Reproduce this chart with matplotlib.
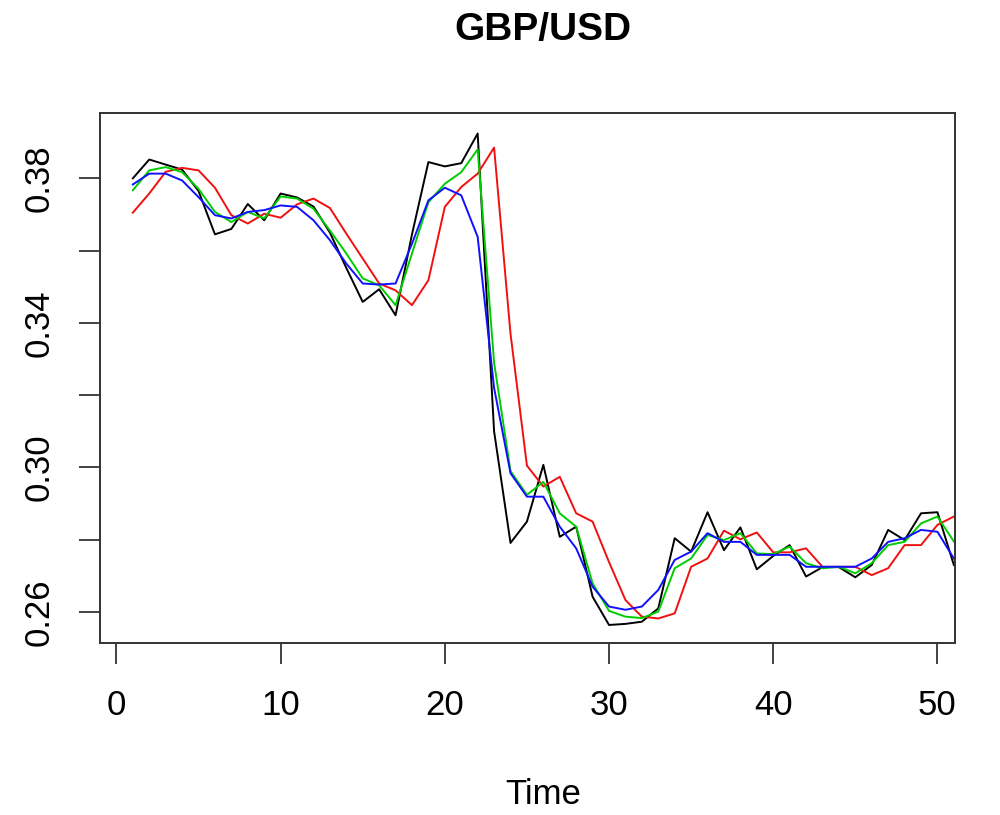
import numpy as np
import matplotlib
matplotlib.use("Agg")
import matplotlib.pyplot as plt

time = np.arange(1, 52)

# observed rate and the three fitted series
actual = [0.3800, 0.3852, 0.3838, 0.3824, 0.3765, 0.3645, 0.3660, 0.3729, 0.3684, 0.3758,
          0.3747, 0.3722, 0.3650, 0.3552, 0.3458, 0.3493, 0.3421, 0.3645, 0.3845, 0.3833,
          0.3842, 0.3924, 0.3100, 0.2791, 0.2850, 0.3007, 0.2808, 0.2836, 0.2642, 0.2564,
          0.2567, 0.2573, 0.2610, 0.2804, 0.2767, 0.2876, 0.2771, 0.2834, 0.2718, 0.2755,
          0.2785, 0.2698, 0.2724, 0.2724, 0.2696, 0.2730, 0.2827, 0.2799, 0.2873, 0.2876,
          0.2730]
red_fit = [0.3705, 0.3758, 0.3818, 0.3829, 0.3822, 0.3774, 0.3698, 0.3675, 0.3702, 0.3691,
           0.3728, 0.3744, 0.3718, 0.3647, 0.3578, 0.3509, 0.3490, 0.3449, 0.3518, 0.3721,
           0.3776, 0.3813, 0.3885, 0.3370, 0.3005, 0.2947, 0.2974, 0.2873, 0.2850, 0.2738,
           0.2633, 0.2587, 0.2582, 0.2596, 0.2725, 0.2748, 0.2825, 0.2801, 0.2820, 0.2765,
           0.2765, 0.2776, 0.2725, 0.2725, 0.2725, 0.2702, 0.2721, 0.2785, 0.2785, 0.2841,
           0.2864]
green_fit = [0.3767, 0.3822, 0.3831, 0.3817, 0.3771, 0.3707, 0.3679, 0.3707, 0.3689, 0.3750,
             0.3744, 0.3716, 0.3656, 0.3592, 0.3523, 0.3504, 0.3449, 0.3592, 0.3734, 0.3785,
             0.3817, 0.3880, 0.3290, 0.2990, 0.2924, 0.2960, 0.2873, 0.2836, 0.2679, 0.2603,
             0.2587, 0.2583, 0.2601, 0.2721, 0.2748, 0.2813, 0.2799, 0.2818, 0.2762, 0.2760,
             0.2781, 0.2735, 0.2721, 0.2725, 0.2707, 0.2735, 0.2785, 0.2794, 0.2845, 0.2864,
             0.2795]
blue_fit = [0.3783, 0.3813, 0.3813, 0.3794, 0.3748, 0.3698, 0.3689, 0.3707, 0.3712, 0.3725,
            0.3721, 0.3684, 0.3629, 0.3564, 0.3509, 0.3506, 0.3509, 0.3619, 0.3739, 0.3774,
            0.3753, 0.3638, 0.3220, 0.2984, 0.2919, 0.2919, 0.2836, 0.2776, 0.2670, 0.2615,
            0.2606, 0.2615, 0.2661, 0.2744, 0.2767, 0.2818, 0.2794, 0.2794, 0.2758, 0.2758,
            0.2758, 0.2725, 0.2725, 0.2725, 0.2725, 0.2748, 0.2794, 0.2804, 0.2827, 0.2822,
            0.2748]

x_ticks = [0, 10, 20, 30, 40, 50]
y_ticks = [0.26, 0.28, 0.30, 0.32, 0.34, 0.36, 0.38]
y_labels = ["0.26", "", "0.30", "", "0.34", "", "0.38"]

fam = ["Liberation Sans", "DejaVu Sans"]

fig = plt.figure(figsize=(10, 8.15), dpi=100)
ax = fig.add_axes([0.100, 0.211, 0.855, 0.650])

ax.plot(time, actual, color="black", lw=1.4)
ax.plot(time, red_fit, color="#f01010", lw=1.4)
ax.plot(time, green_fit, color="#00cd00", lw=1.4)
ax.plot(time, blue_fit, color="#1010ff", lw=1.4)

ax.set_xlim(-1.0, 51.07)
ax.set_ylim(0.2514, 0.3980)

ax.set_xticks(x_ticks)
ax.set_xticklabels([str(v) for v in x_ticks], family=fam, fontsize=25)
ax.set_yticks(y_ticks)
ax.set_yticklabels(y_labels, family=fam, fontsize=25, rotation=90, va="center")
ax.tick_params(axis="both", direction="out", length=15, width=1.2, color="#222222")
ax.tick_params(axis="x", pad=18)
ax.tick_params(axis="y", pad=17)

for sp in ax.spines.values():
    sp.set_linewidth(1.4)
    sp.set_color("#333333")

fig.text(0.543, 1 - 30 / 815, "GBP/USD", ha="center", va="center",
         family=fam, fontweight="bold", fontsize=28)
fig.text(0.543, 1 - 795 / 815, "Time", ha="center", va="center",
         family=fam, fontsize=25)

fig.savefig("out.png", dpi=100)
